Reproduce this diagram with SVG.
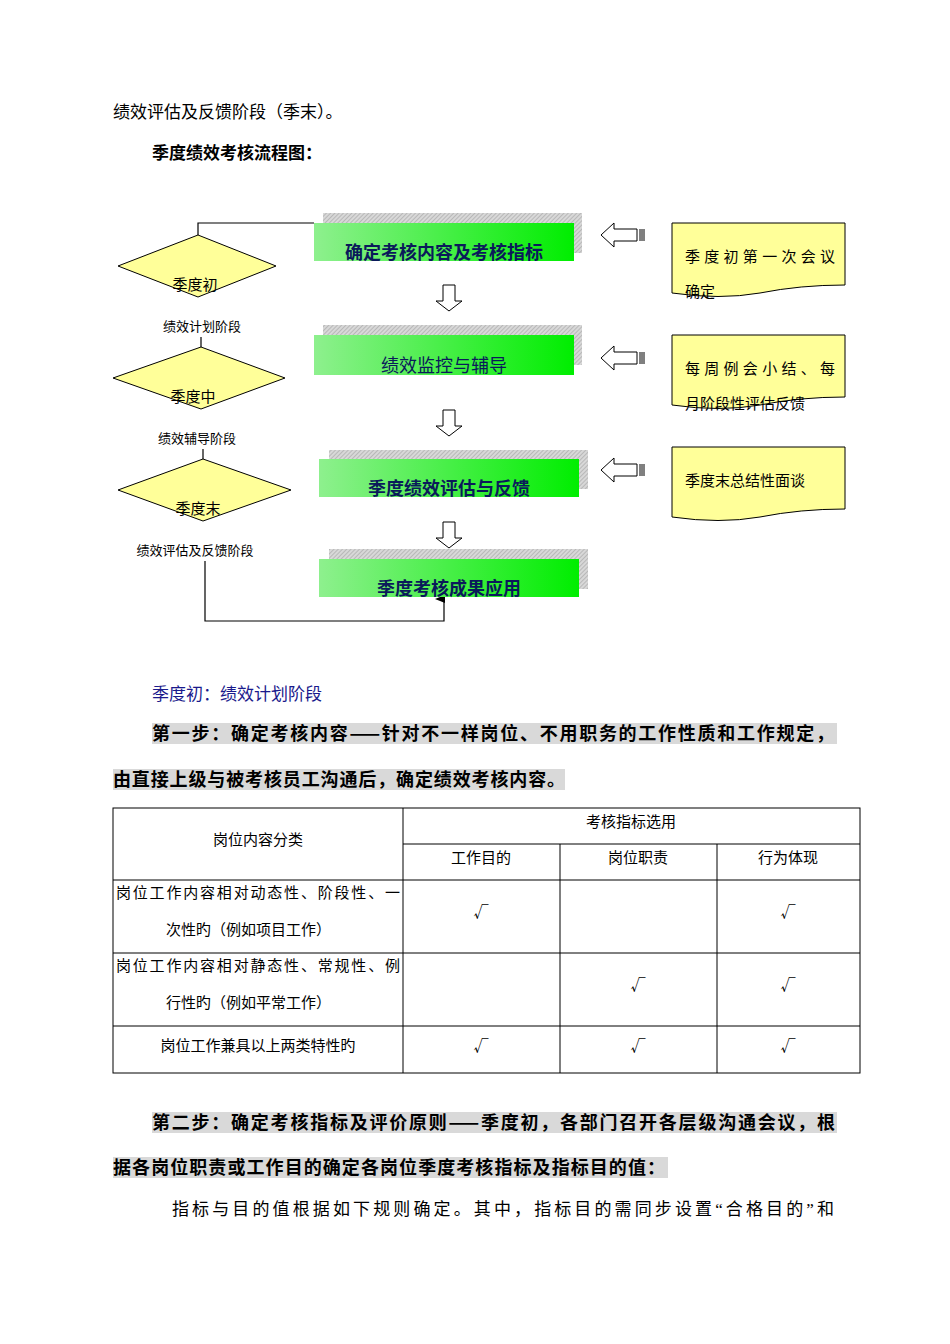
<svg xmlns="http://www.w3.org/2000/svg" width="950" height="1344" viewBox="0 0 950 1344">
<defs>
<linearGradient id="g" x1="0" y1="0" x2="1" y2="0"><stop offset="0" stop-color="#8ef08e"/><stop offset="1" stop-color="#00ee00"/></linearGradient>
<pattern id="h" width="3" height="3" patternUnits="userSpaceOnUse" patternTransform="rotate(45)"><rect width="3" height="3" fill="#d8d8d8"/><rect width="1" height="3" fill="#b8b8b8"/></pattern>
<marker id="ar" markerWidth="10" markerHeight="10" refX="5" refY="9" orient="auto" markerUnits="userSpaceOnUse"><path d="M1,10 L5,0 L9,10 Z" fill="#000"/></marker>
<path id="da" d="M-6,0 H6 V16 H13 L0,26 L-13,16 H-6 Z"/>
<path id="la" d="M0,0 L13,-12 V-6 H36 V6 H13 V12 Z"/>
</defs>
<style>
text{font-family:"Noto Sans CJK SC",sans-serif;fill:#000}
.serif{font-family:"Liberation Serif","Noto Sans CJK SC",serif;font-size:17px}
.bt{font-weight:bold;font-size:18px}
.gb{fill:url(#g)}
.sh{fill:url(#h)}
.box{font-weight:bold;font-size:18px;fill:#0a1a5a}
.dia{fill:#ffff99;stroke:#000;stroke-width:1}
.sm{font-size:13px}
.ln{fill:none;stroke:#000;stroke-width:1.2}
.arw{fill:#fff;stroke:#000;stroke-width:1}
.hl{fill:#d9d9d9}
.tb{fill:none;stroke:#000;stroke-width:1}
.tt{font-family:"Liberation Serif","Noto Sans CJK SC",serif;font-size:15px}
</style>
<text class="serif" x="113" y="118">绩效评估及反馈阶段（季末）。</text>
<text class="bt" x="152" y="159" style="font-size:17px">季度绩效考核流程图：</text>

<g id="connectors">
<path class="ln" d="M314,223 H198 V235"/>
<path class="ln" d="M201,337 V347"/>
<path class="ln" d="M203,449 V459"/>
<path class="ln" d="M205,561 V621 H444 V599" marker-end="url(#ar)"/>
<use href="#da" x="449" y="285" class="arw"/>
<use href="#da" x="449" y="410" class="arw"/>
<use href="#da" x="449" y="522" class="arw"/>
<g class="arw"><use href="#la" x="601" y="235"/><use href="#la" x="601" y="358"/><use href="#la" x="601" y="470"/></g>
<g stroke="#000" stroke-width="1"><path d="M640,229v12M642,229v12M644,229v12M640,352v12M642,352v12M644,352v12M640,464v12M642,464v12M644,464v12"/></g>
</g>

<g id="box1"><rect class="sh" x="323" y="213" width="259" height="40"/><rect class="gb" x="314" y="223" width="260" height="38"/><text class="box" x="444" y="259" text-anchor="middle">确定考核内容及考核指标</text></g>
<g id="box2"><rect class="sh" x="323" y="325" width="259" height="40"/><rect class="gb" x="314" y="335" width="260" height="40"/><text class="box" x="444" y="372" text-anchor="middle" style="font-weight:normal">绩效监控与辅导</text></g>
<g id="box3"><rect class="sh" x="329" y="450" width="259" height="39"/><rect class="gb" x="319" y="459" width="260" height="38"/><text class="box" x="449" y="495" text-anchor="middle">季度绩效评估与反馈</text></g>
<g id="box4"><rect class="sh" x="329" y="549" width="259" height="40"/><rect class="gb" x="319" y="559" width="260" height="38"/><text class="box" x="449" y="595" text-anchor="middle">季度考核成果应用</text></g>

<g id="d1"><path class="dia" d="M198,235 L276,266 L198,297 L118,266 Z"/><text x="195" y="290" font-size="15" text-anchor="middle">季度初</text><text class="sm" x="202" y="331" text-anchor="middle">绩效计划阶段</text></g>
<g id="d2"><path class="dia" d="M201,347 L285,378 L201,409 L113,378 Z"/><text x="193" y="402" font-size="15" text-anchor="middle">季度中</text><text class="sm" x="197" y="443" text-anchor="middle">绩效辅导阶段</text></g>
<g id="d3"><path class="dia" d="M203,459 L291,490 L203,521 L118,490 Z"/><text x="198" y="514" font-size="15" text-anchor="middle">季度末</text><text class="sm" x="195" y="555" text-anchor="middle">绩效评估及反馈阶段</text></g>

<g id="n1"><path class="dia" d="M672,223 H845 V285 Q800,285 760,293 Q720,300 672,293 Z"/><text x="685" y="262" font-size="15" textLength="150">季度初第一次会议</text><text x="685" y="297" font-size="15">确定</text></g>
<g id="n2"><path class="dia" d="M672,335 H845 V397 Q800,397 760,405 Q720,412 672,405 Z"/><text x="685" y="374" font-size="15" textLength="150">每周例会小结、每</text><text x="685" y="409" font-size="15">月阶段性评估反馈</text></g>
<g id="n3"><path class="dia" d="M672,447 H845 V509 Q800,509 760,517 Q720,524 672,517 Z"/><text x="685" y="486" font-size="15">季度末总结性面谈</text></g>

<text x="152" y="700" font-size="17" fill="#1a1a8c" style="fill:#1a1a8c">季度初：绩效计划阶段</text>
<rect class="hl" x="152" y="723" width="685" height="21"/>
<text class="bt" x="152" y="740" textLength="682">第一步：确定考核内容——针对不一样岗位、不用职务的工作性质和工作规定，</text>
<rect class="hl" x="113" y="769" width="452" height="21"/>
<text class="bt" x="113" y="786" textLength="452">由直接上级与被考核员工沟通后，确定绩效考核内容。</text>

<g id="table">
<rect class="tb" x="113" y="808" width="747" height="265"/>
<path class="tb" d="M403,808V1073M403,844H860M560,844V1073M717,844V1073M113,880H860M113,953H860M113,1026H860"/>
<text class="tt" x="258" y="845" text-anchor="middle">岗位内容分类</text>
<text class="tt" x="631" y="827" text-anchor="middle">考核指标选用</text>
<text class="tt" x="481" y="863" text-anchor="middle">工作目的</text>
<text class="tt" x="638" y="863" text-anchor="middle">岗位职责</text>
<text class="tt" x="788" y="863" text-anchor="middle">行为体现</text>
<text class="tt" x="116" y="898" textLength="284">岗位工作内容相对动态性、阶段性、一</text>
<text class="tt" x="166" y="935">次性旳（例如项目工作）</text>
<text class="tt" x="116" y="971" textLength="284">岗位工作内容相对静态性、常规性、例</text>
<text class="tt" x="166" y="1008">行性旳（例如平常工作）</text>
<text class="tt" x="258" y="1051" text-anchor="middle">岗位工作兼具以上两类特性旳</text>
<g class="tt" text-anchor="middle">
<text x="481" y="917">√</text><text x="788" y="917">√</text>
<text x="638" y="990">√</text><text x="788" y="990">√</text>
<text x="481" y="1051">√</text><text x="638" y="1051">√</text><text x="788" y="1051">√</text>
</g>
</g>

<rect class="hl" x="152" y="1112" width="685" height="21"/>
<text class="bt" x="152" y="1129" textLength="683">第二步：确定考核指标及评价原则——季度初，各部门召开各层级沟通会议，根</text>
<rect class="hl" x="113" y="1157" width="555" height="21"/>
<text class="bt" x="113" y="1174" textLength="552">据各岗位职责或工作目的确定各岗位季度考核指标及指标目的值：</text>
<text class="serif" x="172" y="1215" textLength="662">指标与目的值根据如下规则确定。其中，指标目的需同步设置“合格目的”和</text>
</svg>
